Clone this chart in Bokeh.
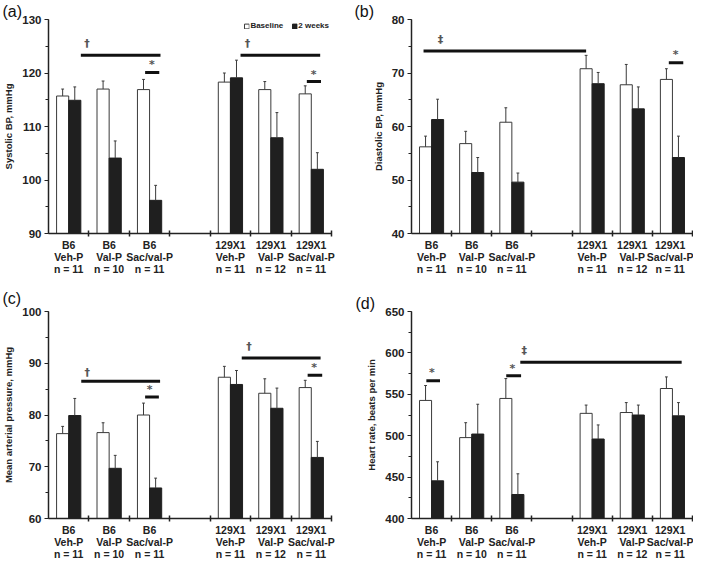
from bokeh.plotting import figure
from bokeh.layouts import gridplot
from bokeh.models import (Range1d, FixedTicker, SingleIntervalTicker,
                          Legend, LegendItem, ColumnDataSource)
from bokeh.embed import file_html
from bokeh.resources import INLINE
from bokeh.core.properties import value

# ---------------- data ----------------
group_labels = ["B6\nVeh-P\nn = 11", "B6\nVal-P\nn = 10", "B6\nSac/val-P\nn = 11",
                "129X1\nVeh-P\nn = 11", "129X1\nVal-P\nn = 12", "129X1\nSac/val-P\nn = 11"]
group_slots = [0, 1, 2, 4, 5, 6]          # slot 3 is the empty gap
slot_bounds = [1, 2, 3, 4, 5, 6, 7]

# (a) Systolic BP, mmHg
sbp_baseline = [115.7, 117.0, 116.9, 118.3, 116.9, 116.1]
sbp_baseline_se = [1.3, 1.5, 1.9, 1.7, 1.5, 1.5]
sbp_2wk = [114.9, 104.1, 96.2, 119.1, 107.9, 102.0]
sbp_2wk_se = [2.5, 3.2, 2.8, 3.3, 4.7, 3.1]
sbp_sig_lines = [(0.80, 2.77, 123.3), (4.75, 6.72, 123.3), (2.39, 2.74, 120.1), (6.39, 6.74, 118.4)]
sbp_sig_marks = [(0.95, 125.6, "†"), (4.92, 125.6, "†"), (2.56, 121.5, "*"), (6.56, 119.8, "*")]

# (b) Diastolic BP, mmHg
dbp_baseline = [56.2, 56.8, 60.8, 70.8, 67.8, 68.8]
dbp_baseline_se = [2.0, 2.3, 2.7, 2.5, 3.8, 2.0]
dbp_2wk = [61.3, 51.4, 49.6, 68.0, 63.3, 54.2]
dbp_2wk_se = [3.8, 2.8, 1.7, 2.1, 4.1, 4.0]
dbp_sig_lines = [(0.30, 4.35, 74.1), (6.41, 6.77, 71.9)]
dbp_sig_marks = [(0.72, 76.3, "‡"), (6.58, 73.4, "*")]

# (c) Mean arterial pressure, mmHg
map_baseline = [76.4, 76.6, 80.0, 87.3, 84.2, 85.3]
map_baseline_se = [1.4, 1.9, 2.3, 2.1, 2.8, 1.4]
map_2wk = [79.9, 69.7, 65.9, 85.9, 81.3, 71.8]
map_2wk_se = [3.3, 2.5, 1.9, 2.7, 3.9, 3.1]
map_sig_lines = [(0.81, 2.76, 86.5), (4.78, 6.73, 91.0), (2.39, 2.73, 83.5), (6.41, 6.77, 87.7)]
map_sig_marks = [(0.96, 88.3, "†"), (4.96, 93.3, "†"), (2.50, 84.9, "*"), (6.57, 89.2, "*")]

# (d) Heart rate, beats per min
hr_baseline = [542.6, 497.7, 545.0, 527.0, 528.0, 557.0]
hr_baseline_se = [18, 18, 24, 10, 12, 14]
hr_2wk = [445.5, 502.0, 429.0, 496.0, 525.0, 524.0]
hr_2wk_se = [23, 36, 25, 17, 12, 16]
hr_sig_lines = [(0.37, 0.71, 566.4), (2.36, 2.73, 572.3), (2.71, 6.73, 588.7)]
hr_sig_marks = [(0.51, 576.0, "*"), (2.51, 581.0, "*"), (2.81, 603.0, "‡")]

FONT = "Liberation Sans"
BAR_W = 0.3


def make_panel(letter, ylabel, ymin, ymax, major, base, base_se, wk, wk_se,
               sig_lines, sig_marks, width, height, bl, br, bt, bb,
               title_offset, title_standoff, legend=False):
    p = figure(width=width, height=height, x_range=Range1d(0, 7),
               y_range=Range1d(ymin, ymax), output_backend="svg",
               toolbar_location=None, min_border_left=bl, min_border_right=br,
               min_border_top=bt, min_border_bottom=bb, title=letter)
    p.outline_line_color = None
    p.xgrid.visible = False
    p.ygrid.visible = False

    p.title.text_font = FONT
    p.title.text_font_size = "16px"
    p.title.text_font_style = "normal"
    p.title.text_color = "#111111"
    p.title.align = "left"
    p.title.offset = title_offset
    p.title.standoff = title_standoff

    centers = [s + 0.5 for s in group_slots]
    xb = [c - BAR_W / 2 for c in centers]
    xw = [c + BAR_W / 2 for c in centers]
    src = ColumnDataSource(dict(
        xb=xb, xw=xw, base=base, wk=wk,
        base_top=[v + e for v, e in zip(base, base_se)],
        wk_top=[v + e for v, e in zip(wk, wk_se)],
        xb0=[x - 0.035 for x in xb], xb1=[x + 0.035 for x in xb],
        xw0=[x - 0.035 for x in xw], xw1=[x + 0.035 for x in xw],
    ))
    r1 = p.vbar(x="xb", width=BAR_W, top="base", bottom=ymin, fill_color="white",
                line_color="#3a3a3a", line_width=1, source=src)
    r2 = p.vbar(x="xw", width=BAR_W, top="wk", bottom=ymin, fill_color="#1f1f1f",
                line_color="#1f1f1f", line_width=1, source=src)
    for xk, vk, tk, x0k, x1k in (("xb", "base", "base_top", "xb0", "xb1"),
                                  ("xw", "wk", "wk_top", "xw0", "xw1")):
        p.segment(x0=xk, y0=vk, x1=xk, y1=tk, line_color="#3a3a3a", line_width=1, source=src)
        p.segment(x0=x0k, y0=tk, x1=x1k, y1=tk, line_color="#3a3a3a", line_width=1, source=src)

    p.segment(x0=[s[0] for s in sig_lines], x1=[s[1] for s in sig_lines],
              y0=[s[2] for s in sig_lines], y1=[s[2] for s in sig_lines],
              line_color="#111111", line_width=3)
    p.text(x=[m[0] for m in sig_marks], y=[m[1] for m in sig_marks],
           text=[m[2] for m in sig_marks], text_font=value("DejaVu Sans"),
           text_font_size="11px", text_font_style="bold", text_color="#555555",
           text_align="center", text_baseline="middle")

    # x axis
    xa = p.xaxis[0]
    xa.ticker = FixedTicker(ticks=centers, minor_ticks=slot_bounds)
    xa.major_label_overrides = {c: lab for c, lab in zip(centers, group_labels)}
    xa.major_tick_line_color = None
    xa.major_tick_in = 0
    xa.major_tick_out = 0
    xa.minor_tick_in = 3
    xa.minor_tick_out = 3
    xa.minor_tick_line_width = 1.5
    xa.minor_tick_line_color = "#222222"
    xa.axis_line_width = 1.5
    xa.axis_line_color = "#222222"
    xa.major_label_text_font = FONT
    xa.major_label_text_font_style = "bold"
    xa.major_label_text_font_size = "10.5px"
    xa.major_label_text_line_height = 1.0
    xa.major_label_text_color = "#222222"
    xa.major_label_standoff = 2

    # y axis
    ya = p.yaxis[0]
    ya.ticker = SingleIntervalTicker(interval=major, num_minor_ticks=2)
    ya.major_tick_in = 0
    ya.major_tick_out = 4
    ya.minor_tick_in = 0
    ya.minor_tick_out = 3
    ya.major_tick_line_color = "#222222"
    ya.minor_tick_line_color = "#222222"
    ya.axis_line_width = 1.5
    ya.axis_line_color = "#222222"
    ya.major_label_text_font = FONT
    ya.major_label_text_font_style = "bold"
    ya.major_label_text_font_size = "11.5px"
    ya.major_label_text_color = "#222222"
    ya.major_label_standoff = 3
    ya.axis_label = ylabel
    ya.axis_label_text_font = FONT
    ya.axis_label_text_font_style = "bold"
    ya.axis_label_text_font_size = "9.5px"
    ya.axis_label_text_color = "#222222"
    ya.axis_label_standoff = 5

    if legend:
        lg = Legend(items=[LegendItem(label="Baseline", renderers=[r1]),
                           LegendItem(label="2 weeks", renderers=[r2])],
                    location="top_right", orientation="horizontal")
        lg.label_text_font = FONT
        lg.label_text_font_style = "bold"
        lg.label_text_font_size = "8px"
        lg.label_text_color = "#222222"
        lg.glyph_width = 6
        lg.glyph_height = 6
        lg.label_standoff = 1
        lg.label_height = 8
        lg.spacing = 8
        lg.padding = 0
        lg.margin = 2
        lg.background_fill_alpha = 0
        lg.border_line_color = None
        p.add_layout(lg)
    return p


pa = make_panel("(a)", "Systolic BP, mmHg", 90, 130, 10, sbp_baseline, sbp_baseline_se,
                sbp_2wk, sbp_2wk_se, sbp_sig_lines, sbp_sig_marks,
                352, 282, 47, 21, 18, 49, -46, 0, legend=True)
pb = make_panel("(b)", "Diastolic BP, mmHg", 40, 80, 10, dbp_baseline, dbp_baseline_se,
                dbp_2wk, dbp_2wk_se, dbp_sig_lines, dbp_sig_marks,
                341, 282, 59, 1, 18, 49, -57, 0)
pc = make_panel("(c)", "Mean arterial pressure, mmHg", 60, 100, 10, map_baseline, map_baseline_se,
                map_2wk, map_2wk_se, map_sig_lines, map_sig_marks,
                352, 280, 47, 21, 29, 40, -46, 10)
pd_ = make_panel("(d)", "Heart rate, beats per min", 400, 650, 50, hr_baseline, hr_baseline_se,
                 hr_2wk, hr_2wk_se, hr_sig_lines, hr_sig_marks,
                 341, 280, 59, 1, 29, 40, -56, 0)

grid = gridplot([[pa, pb], [pc, pd_]], toolbar_location=None)
open("out.html", "w").write(file_html(grid, INLINE))
